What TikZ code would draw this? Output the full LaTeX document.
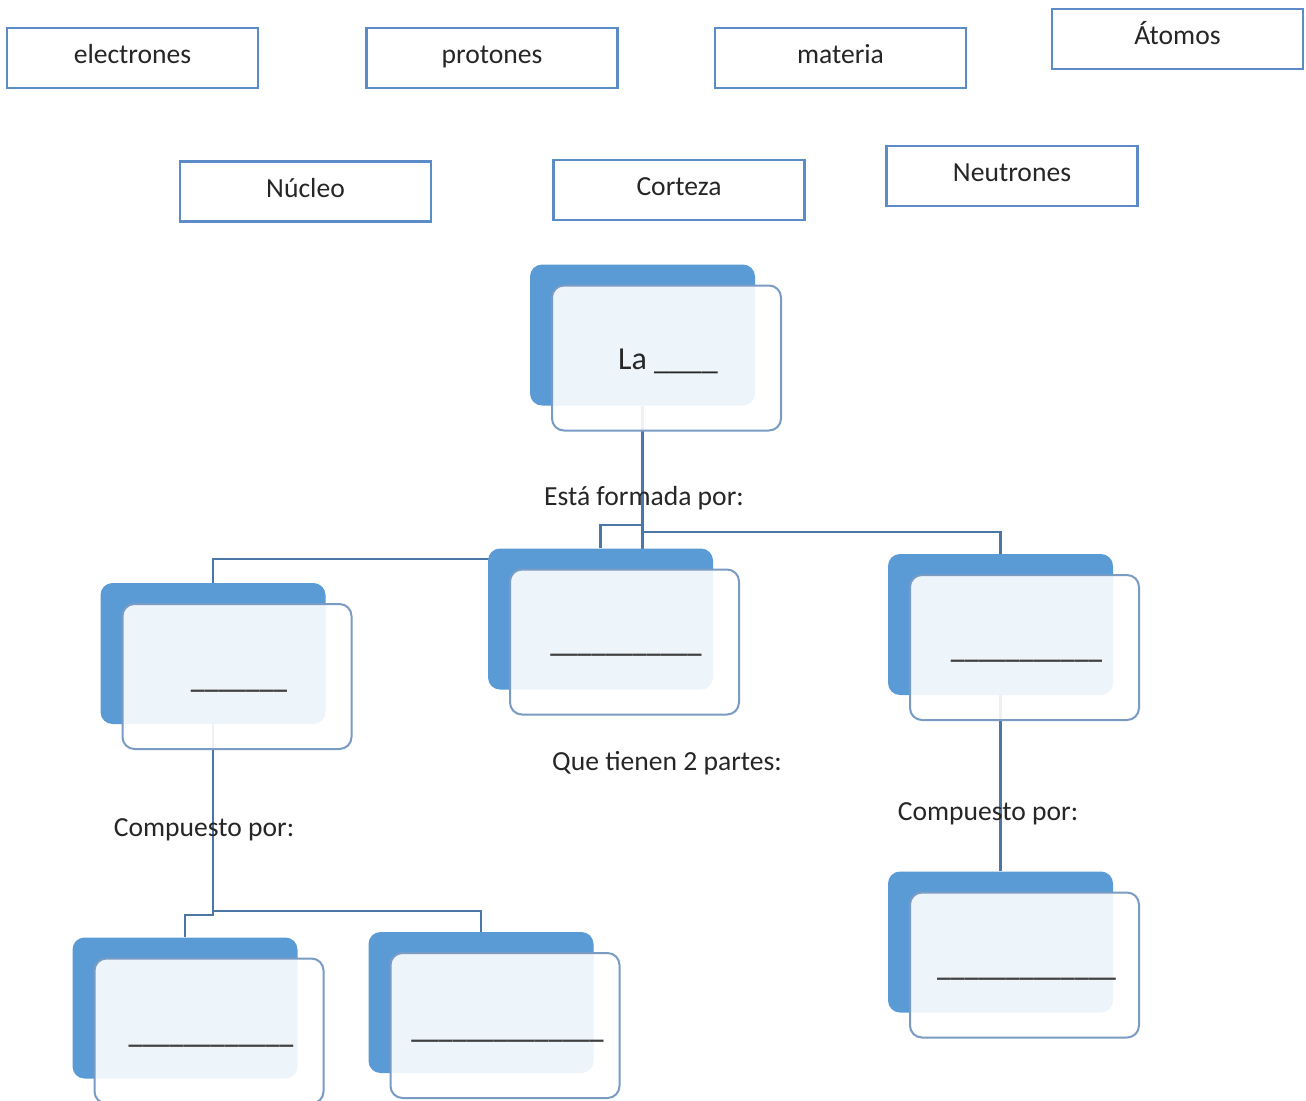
\documentclass[tikz,border=0pt]{standalone}
\usepackage{fontspec}
\setmainfont{Carlito}
\usetikzlibrary{calc,backgrounds}
\definecolor{dkblue}{HTML}{5B9BD5}
\definecolor{frame}{HTML}{5B8CC8}
\definecolor{edgecol}{HTML}{4A76A8}
\definecolor{fborder}{HTML}{7A9BC4}
\newcommand\shadowbox[3]{%
  \node[backbox] (#1B) at (#2,#3) {};
  \node[frontbox] (#1) at ($(#1B.center)+(24,23)$) {};
}
\begin{document}
\begin{tikzpicture}[x=0.5pt,y=-0.5pt,
  word/.style={draw=frame, line width=1.2pt, fill=white, minimum width=125.5pt,
    minimum height=30pt, inner sep=0pt, text height=0.55em, text depth=0pt,
    font=\fontsize{13.8}{16}\selectfont, text=black!85},
  backbox/.style={fill=dkblue, rounded corners=6pt, minimum width=112.5pt,
    minimum height=70.5pt, inner sep=0pt},
  frontbox/.style={draw=fborder, line width=1pt, fill=white, fill opacity=0.9,
    rounded corners=6pt, minimum width=114.5pt, minimum height=72.5pt, inner sep=0pt},
  lbl/.style={anchor=base, inner sep=0pt, font=\fontsize{13.8}{16}\selectfont, text=black!85},
  blank/.style={anchor=base, inner sep=0pt, font=\fontsize{13.8}{16}\selectfont\bfseries, text=black!75},
  conn/.style={draw=edgecol, line width=1.1pt}
]
\useasboundingbox (0,0) rectangle (1306,1100);

% word boxes
\node[word] (electrones) at (132.5,58) {electrones};
\node[word] (protones) at (492,58) {protones};
\node[word] (materia) at (840.5,58) {materia};
\node[word] (atomos) at (1177.5,39) {Átomos};
\node[word] (nucleo) at (305.5,191.5) {Núcleo};
\node[word] (corteza) at (679,190) {Corteza};
\node[word] (neutrones) at (1012,176) {Neutrones};

% shadowed boxes
\shadowbox{la}{642.5}{335}
\shadowbox{c}{600.5}{619}
\shadowbox{r}{1000.5}{624.5}
\shadowbox{l}{213}{653.5}
\shadowbox{a}{185}{1008}
\shadowbox{b}{481}{1002.5}
\shadowbox{br}{1000.5}{942}

% texts in boxes
\node[anchor=base, inner sep=0pt, font=\fontsize{16}{18}\selectfont, text=black!85] (latext) at (668,369) {La \_\_\_\_};
\node[blank] (lblank) at (239,688) {\_\_\_\_\_\_\_};
\node[blank] (cblank) at (626,652) {\_\_\_\_\_\_\_\_\_\_\_};
\node[blank] (rblank) at (1026.5,658) {\_\_\_\_\_\_\_\_\_\_\_};
\node[blank] (ablank) at (211,1043) {\_\_\_\_\_\_\_\_\_\_\_\_};
\node[blank] (bblank) at (507.5,1038) {\_\_\_\_\_\_\_\_\_\_\_\_\_\_};
\node[blank] (brblank) at (1026.5,976) {\_\_\_\_\_\_\_\_\_\_\_\_\_};

% labels
\node[lbl] (esta) at (644,505) {Está formada por:};
\node[lbl] (que) at (667,770) {Que tienen 2 partes:};
\node[lbl] (compl) at (204,836) {Compuesto por:};
\node[lbl] (compr) at (988,820) {Compuesto por:};

% connectors
\coordinate (j1) at (0,525);
\coordinate (j2) at (0,532);
\coordinate (j3) at (0,559);
\coordinate (j4) at (0,915);
\coordinate (j5) at (0,911);
\begin{pgfonlayer}{background}
\fill[white] (0,0) rectangle (1306,1100);
\draw[conn] (laB.south) -- (laB.south |- j1) -| (cB.north);
\draw[conn] (laB.south) -- (laB.south |- j2) -| (rB.north);
\draw[conn] (laB.south) -- (laB.south |- j3) -| (lB.north);
\draw[conn] (lB.south) -- (lB.south |- j4) -| (aB.north);
\draw[conn] (lB.south) -- (lB.south |- j5) -| (bB.north);
\draw[conn] (rB.south) -- (brB.north);
\end{pgfonlayer}
\end{tikzpicture}
\end{document}
